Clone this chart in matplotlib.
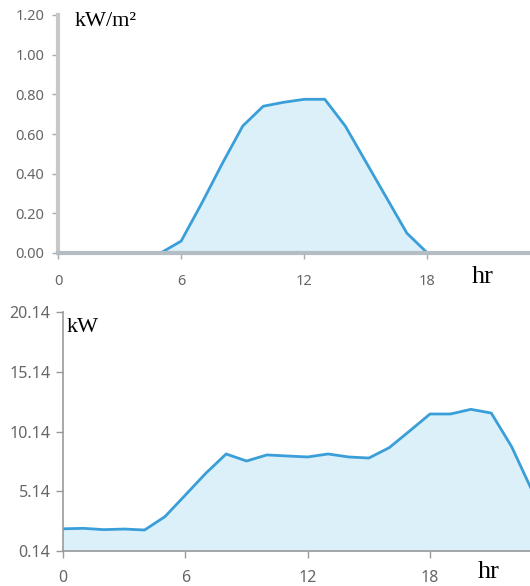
import matplotlib.pyplot as plt
import numpy as np

# irradiance, kW/m2, hours 5..18
irr_hours = [5, 6, 7, 8, 9, 10, 11, 12, 13, 14, 15, 16, 17, 18]
irr_vals = [0.0, 0.06, 0.25, 0.45, 0.64, 0.74, 0.76, 0.775, 0.775, 0.64, 0.46, 0.28, 0.10, 0.0]

# load, kW, hours 0..23
load_hours = list(range(24))
load_vals = [2.0, 2.04, 1.93, 1.98, 1.90, 3.02, 4.83, 6.65, 8.27, 7.68, 8.19, 8.10,
             8.02, 8.27, 8.02, 7.93, 8.80, 10.2, 11.62, 11.62, 12.01, 11.70, 8.88, 5.2]

x_ticks = [0, 6, 12, 18]
top_yticks = [0.0, 0.2, 0.4, 0.6, 0.8, 1.0, 1.2]
bot_yticks = [0.14, 5.14, 10.14, 15.14, 20.14]

line_c = '#3a9fd8'
fill_c = '#dcf0f9'
lab_c = '#666666'
serif = 'Liberation Serif'
sans = 'Noto Sans'

fig = plt.figure(figsize=(5.30, 5.86), dpi=100)

# top chart
ax1 = fig.add_axes([58/530, 1 - 253/586, 1 - 58/530, (253 - 15)/586])
ax1.fill_between(irr_hours, irr_vals, 0, color=fill_c, lw=0)
ax1.plot(irr_hours, irr_vals, color=line_c, lw=2, solid_joinstyle='round')
ax1.set_xlim(0, 23)
ax1.set_ylim(0, 1.2)
ax1.set_xticks(x_ticks)
ax1.set_yticks(top_yticks)
ax1.set_yticklabels(['%.2f' % v for v in top_yticks], fontfamily=sans, fontsize=10.5, color=lab_c)
ax1.set_xticklabels([str(v) for v in x_ticks], fontfamily=sans, fontsize=10.5, color=lab_c)
for s in ['top', 'right']:
    ax1.spines[s].set_visible(False)
ax1.spines['left'].set_color('#c8c8c8')
ax1.spines['left'].set_linewidth(3)
ax1.spines['bottom'].set_color('#b4bcc4')
ax1.spines['bottom'].set_linewidth(3)
ax1.tick_params(axis='y', length=4, width=1, color='#aaaaaa', pad=6)
ax1.tick_params(axis='x', length=4, width=1, color='#aaaaaa', pad=11)
ax1.patch.set_alpha(0)
fig.text(75/530, 1 - 22/586, 'kW/m²', fontfamily=serif, fontsize=16, va='center', ha='left')
fig.text(472/530, 1 - 277/586, 'hr', fontfamily=serif, fontsize=19, va='center', ha='left')

# bottom chart
ax2 = fig.add_axes([63/530, 1 - 551/586, 1 - 63/530, (551 - 312.3)/586])
ax2.fill_between(load_hours, load_vals, 0.14, color=fill_c, lw=0)
ax2.plot(load_hours, load_vals, color=line_c, lw=2, solid_joinstyle='round')
ax2.set_xlim(0, 22.9)
ax2.set_ylim(0.14, 20.14)
ax2.set_xticks(x_ticks)
ax2.set_yticks(bot_yticks)
ax2.set_yticklabels(['%.2f' % v for v in bot_yticks], fontfamily=sans, fontsize=11.5, color=lab_c)
ax2.set_xticklabels([str(v) for v in x_ticks], fontfamily=sans, fontsize=11.5, color=lab_c)
for s in ['top', 'right']:
    ax2.spines[s].set_visible(False)
for s in ['left', 'bottom']:
    ax2.spines[s].set_color('#999999')
    ax2.spines[s].set_linewidth(1.2)
ax2.tick_params(axis='both', length=5, width=1, color='#999999')
ax2.tick_params(axis='y', pad=4)
ax2.tick_params(axis='x', pad=9)
ax2.patch.set_alpha(0)
fig.text(67/530, 1 - 328/586, 'kW', fontfamily=serif, fontsize=16, va='center', ha='left')
fig.text(478/530, 1 - 572/586, 'hr', fontfamily=serif, fontsize=19, va='center', ha='left')

fig.savefig('out.png', dpi=100)
